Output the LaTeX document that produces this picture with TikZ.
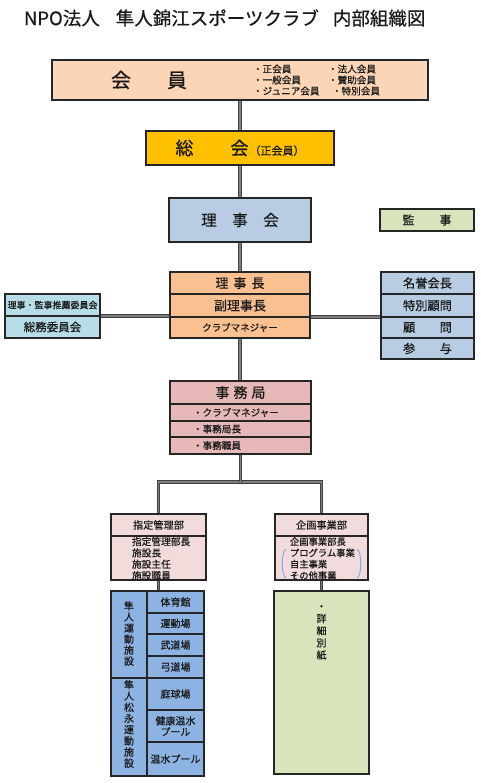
\documentclass[tikz,border=0pt]{standalone}
\usepackage{fontspec}
\setmainfont{Noto Sans CJK JP}[UprightFeatures={FakeBold=0.5}]
\usetikzlibrary{backgrounds}
\newcommand\pxf[2]{\fontsize{\fpeval{#1*0.75}pt}{\fpeval{#2*0.75}pt}\selectfont}
\newcommand\hpx[1]{\hspace*{\fpeval{#1*0.75}pt}}
\definecolor{cKaiin}{HTML}{FBD5B5}
\definecolor{cSokai}{HTML}{FFC000}
\definecolor{cBlue}{HTML}{B8CCE4}
\definecolor{cGreen}{HTML}{D7E4BC}
\definecolor{cOrange}{HTML}{FAC090}
\definecolor{cCyan}{HTML}{B7DDE8}
\definecolor{cRose}{HTML}{E6B9B8}
\definecolor{cPink}{HTML}{F2DCDB}
\definecolor{cFac}{HTML}{8DB3E2}
\definecolor{cBracket}{HTML}{8FAADC}
\tikzset{
  box/.style={draw=black!85, line width=1.3pt, inner sep=0pt, outer sep=0pt, align=center, text=black!90},
  lbl/.style={inner sep=0pt, outer sep=0pt, text=black!90},
  conn/.style={draw=black!75, line width=0.7pt, double=black!50, double distance=1.3pt},
  brk/.style={draw=cBracket, line width=0.8pt},
}
% name, x1, y1, x2, y2, style, text
\newcommand\bx[7]{\node[box,#6,minimum width={((#4)-(#2))*0.75pt},minimum height={((#5)-(#3))*0.75pt}] (#1) at ({((#2)+(#4))/2},{((#3)+(#5))/2}) {#7};}
\begin{document}
\begin{tikzpicture}[x=0.75pt,y=-0.75pt]
\useasboundingbox (0,0) rectangle (480,783);
\begin{scope}[on background layer]
\fill[white] (0,0) rectangle (480,783);
\end{scope}

% title
\node[lbl, anchor=west, font={\pxf{18.5}{20}}] (title) at (24,18) {NPO法人\hpx{16}隼人錦江スポーツクラブ\hpx{14}内部組織図};

% members
\bx{kaiin}{52}{60}{428}{100}{fill=cKaiin}{}
\node[lbl, font={\pxf{20}{22}}] (kaiintxt) at (149,80) {会\hpx{36}員};
\node[lbl, anchor=west, align=left, font={\pxf{9.6}{11}}] (memA) at (253,80) {・正会員\\・一般会員\\・ジュニア会員};
\node[lbl, anchor=west, align=left, font={\pxf{9.6}{11}}] (memB) at (328,80) {・法人会員\\・賛助会員\\\hpx{4}・特別会員};

% general assembly
\bx{sokai}{146}{131}{334}{165}{fill=cSokai, font={\pxf{18}{20}}}{総\hpx{37}会\hpx{1}{\pxf{11}{13}（正会員）}}

% board
\bx{rijikai}{169}{198}{311}{242}{fill=cBlue, font={\pxf{15.5}{17}}}{理\hpx{15.5}事\hpx{15.5}会}
\bx{kanji}{380}{209}{474}{231}{fill=cGreen, font={\pxf{12}{14}}}{監\hpx{25}事}

% chairman block
\bx{rijicho}{170}{272}{310}{294}{fill=cOrange, font={\pxf{13}{15}}}{理\hpx{5}事\hpx{5}長}
\bx{fukuri}{170}{294}{310}{317}{fill=cOrange, font={\pxf{13}{15}}}{副理事長}
\bx{cm}{170}{317}{310}{338}{fill=cOrange, font={\pxf{9.5}{11}}}{クラブマネジャー}

% left committee
\bx{suisen}{5}{294}{100}{316}{fill=cCyan, font={\pxf{9}{10}}}{理事・監事推薦委員会}
\bx{somu}{5}{316}{100}{338}{fill=cCyan, font={\pxf{11.5}{13}}}{総務委員会}

% right advisors
\bx{meiyo}{381}{272}{474}{294}{fill=cBlue, font={\pxf{12.2}{14}}}{名誉会長}
\bx{tokubetsu}{381}{294}{474}{317}{fill=cBlue, font={\pxf{12.2}{14}}}{特別顧問}
\bx{komon}{381}{317}{474}{338}{fill=cBlue, font={\pxf{12.2}{14}}}{顧\hpx{24.4}問}
\bx{sanyo}{381}{338}{474}{359}{fill=cBlue, font={\pxf{12.2}{14}}}{参\hpx{24.4}与}

% secretariat
\bx{jimu1}{170}{381}{311}{404}{fill=cRose, font={\pxf{14}{16}}}{事\hpx{4}務\hpx{4}局}
\bx{jimu2}{170}{404}{311}{421}{fill=cRose}{}
\bx{jimu3}{170}{421}{311}{437}{fill=cRose}{}
\bx{jimu4}{170}{437}{311}{454}{fill=cRose}{}
\node[lbl, anchor=west, font={\pxf{9.6}{11}}] (jimu2t) at (193,412.5) {・クラブマネジャー};
\node[lbl, anchor=west, font={\pxf{9.6}{11}}] (jimu3t) at (193,429) {・事務局長};
\node[lbl, anchor=west, font={\pxf{9.6}{11}}] (jimu4t) at (193,445.5) {・事務職員};

% departments
\bx{shitei1}{111}{514}{206}{536}{fill=cPink, font={\pxf{10.2}{12}}}{指定管理部}
\bx{shitei2}{111}{536}{206}{580}{fill=cPink}{}
\node[lbl, anchor=west, align=left, font={\pxf{9.7}{11.3}}] (shiteit) at (132,558.5) {指定管理部長\\施設長\\施設主任\\施設職員};
\bx{kikaku1}{275}{514}{368}{536}{fill=cPink, font={\pxf{10.2}{12}}}{企画事業部}
\bx{kikaku2}{275}{536}{368}{580}{fill=cPink}{}
\node[lbl, anchor=west, align=left, font={\pxf{9.3}{11.3}}] (kikakut) at (290,558.5) {企画事業部長\\プログラム事業\\自主事業\\その他事業};
\draw[brk] (286,549) .. controls (281,551) and (281,576) .. (286,578);
\draw[brk] (357,549) .. controls (362,551) and (362,576) .. (357,578);

% facilities
\bx{hayato}{111}{591}{147}{678}{fill=cFac}{}
\bx{matsu}{111}{678}{147}{776}{fill=cFac}{}
\node[lbl, align=center, font={\pxf{10}{11}}] (hayatot) at (129,633.5) {隼\\人\\運\\動\\施\\設};
\node[lbl, align=center, font={\pxf{10}{11.2}}] (matsut) at (129,724) {隼\\人\\松\\永\\運\\動\\施\\設};
\bx{f1}{147}{591}{204}{613}{fill=cFac, font={\pxf{10}{11}}}{体育館}
\bx{f2}{147}{613}{204}{634}{fill=cFac, font={\pxf{10}{11}}}{運動場}
\bx{f3}{147}{634}{204}{656}{fill=cFac, font={\pxf{10}{11}}}{武道場}
\bx{f4}{147}{656}{204}{678}{fill=cFac, font={\pxf{10}{11}}}{弓道場}
\bx{f5}{147}{678}{204}{710}{fill=cFac, font={\pxf{10}{11}}}{庭球場}
\bx{f6}{147}{710}{204}{742}{fill=cFac, font={\pxf{10}{11}}}{健康温水\\プール}
\bx{f7}{147}{742}{204}{776}{fill=cFac, font={\pxf{10}{11}}}{温水プール}

% details sheet
\bx{shosai}{274}{591}{369}{774}{fill=cGreen}{}
\node[lbl, align=center, font={\pxf{10}{12.2}}] (shosait) at (321.5,632.5) {・\\詳\\細\\別\\紙};

% connectors
\coordinate (jt) at (240.5,482);
\begin{scope}[on background layer]
\draw[conn] (kaiin.south) -- (sokai.north);
\draw[conn] (sokai.south) -- (rijikai.north);
\draw[conn] (rijikai.south) -- (rijicho.north);
\draw[conn] (cm.south) -- (cm.south |- jimu1.north);
\draw[conn] (suisen.south east) -- (suisen.south east -| fukuri.west);
\draw[conn] (fukuri.south east) -- (fukuri.south east -| tokubetsu.west);
\draw[conn] (shitei1.north) -- (shitei1.north |- jt) -- (kikaku1.north |- jt) -- (kikaku1.north);
\draw[conn] (jimu4.south) -- (jt);
\draw[conn] (shitei2.south) -- (shitei2.south |- f1.north);
\draw[conn] (kikaku2.south) -- (shosai.north);
\end{scope}
\end{tikzpicture}
\end{document}
